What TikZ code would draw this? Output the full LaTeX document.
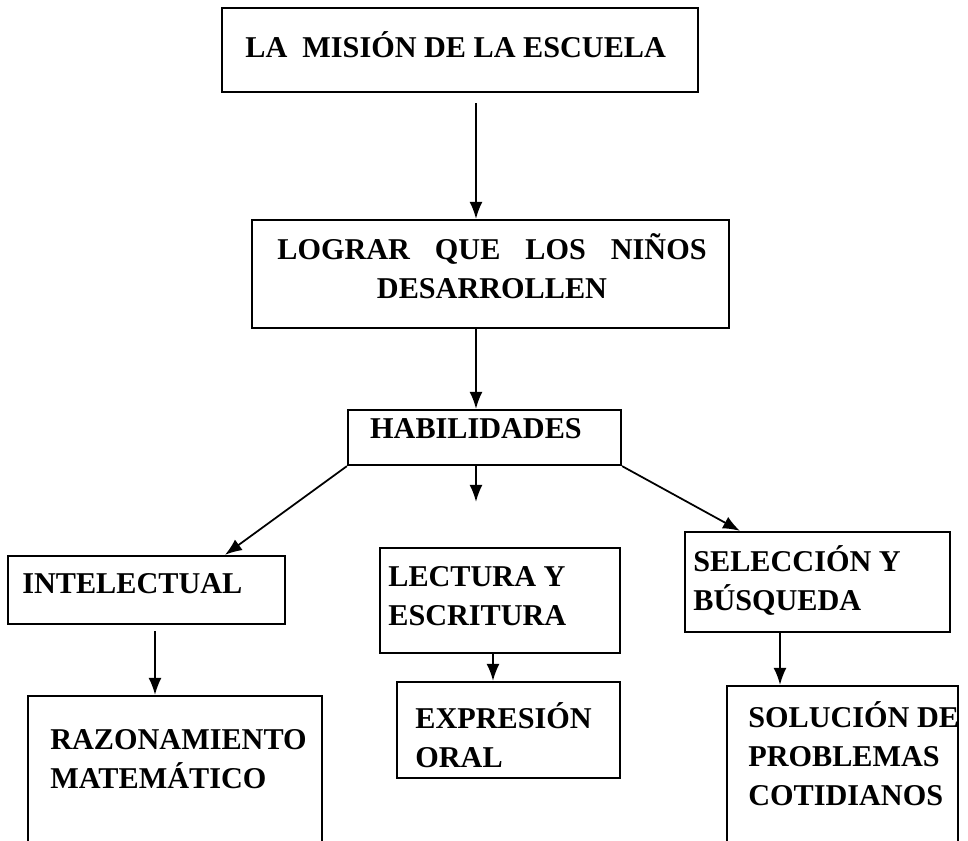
\documentclass[tikz,border=0pt]{standalone}
\usepackage{fontspec}
\setmainfont{Liberation Serif}
\usetikzlibrary{arrows.meta}
\begin{document}
\begin{tikzpicture}[x=0.02cm,y=-0.02cm,
		caja/.style={draw,line width=1.3pt,inner sep=0pt},
		texto/.style={inner sep=0pt,font=\fontsize{17.2}{22.2}\selectfont\bfseries},
		flecha/.style={line width=1pt,-{Latex[length=0.34cm,width=0.26cm]}}]
				\useasboundingbox (0,0) rectangle (968,840);
				\clip (0,0) rectangle (968,840);
				\node[caja,minimum width=9.52cm,minimum height=1.68cm] (mision) at (460,50) {};
				\node[caja,minimum width=9.54cm,minimum height=2.16cm] (lograr) at (490.5,274) {};
				\node[caja,minimum width=5.46cm,minimum height=1.1cm] (habilidades) at (484.5,437.5) {};
				\node[caja,minimum width=5.54cm,minimum height=1.36cm] (intelectual) at (146.5,590) {};
				\node[caja,minimum width=4.8cm,minimum height=2.1cm] (lectura) at (500,600.5) {};
				\node[caja,minimum width=5.3cm,minimum height=2cm] (seleccion) at (817.5,582) {};
				\node[caja,minimum width=5.88cm,minimum height=3.12cm] (razonamiento) at (175,774) {};
				\node[caja,minimum width=4.46cm,minimum height=1.92cm] (expresion) at (508.5,730) {};
				\node[caja,minimum width=4.62cm,minimum height=3.32cm] (solucion) at (842.5,769) {};
				\node[texto,anchor=base west] (tmision) at (245,57) {LA\ \ MISIÓN DE LA ESCUELA};
				\node[texto,anchor=base,align=center] (tlograr) at (492,298) {LOGRAR\hspace{0.5cm}QUE\hspace{0.5cm}LOS\hspace{0.5cm}NIÑOS\\DESARROLLEN};
				\node[texto,anchor=base] (thabilidades) at (476,438) {HABILIDADES};
				\node[texto,anchor=base west] (tintelectual) at (22,593) {INTELECTUAL};
				\node[texto,anchor=base west,align=left] (tlectura) at (388,625) {LECTURA Y\\ESCRITURA};
				\node[texto,anchor=base west,align=left] (tseleccion) at (693,610) {SELECCIÓN Y\\BÚSQUEDA};
				\node[texto,anchor=base west,align=left] (trazonamiento) at (50,788) {RAZONAMIENTO\\MATEMÁTICO};
				\node[texto,anchor=base west,align=left] (texpresion) at (415,767) {EXPRESIÓN\\ORAL};
				\node[texto,anchor=base west,align=left] (tsolucion) at (748,805) {SOLUCIÓN DE\\PROBLEMAS\\COTIDIANOS};
				\coordinate (eje) at (476,0);
				\draw[flecha,shorten <=0.2cm] (mision.south -| eje) -- (lograr.north -| eje);
				\draw[flecha] (lograr.south -| eje) -- (habilidades.north -| eje);
				\draw[flecha,shorten >=0.9cm] (habilidades.south -| eje) -- (lectura.north -| eje);
				\draw[flecha] (habilidades.south west) -- ([xshift=1.57cm]intelectual.north);
				\draw[flecha] (habilidades.south east) -- ([xshift=-1.55cm]seleccion.north);
				\draw[flecha,shorten <=0.12cm] ([xshift=0.17cm]intelectual.south) -- ([xshift=-0.4cm]razonamiento.north);
				\draw[flecha] ([xshift=-0.14cm]lectura.south) -- ([xshift=-0.31cm]expresion.north);
				\draw[flecha] ([xshift=-0.75cm]seleccion.south) -- ([xshift=-1.25cm]solucion.north);
			\end{tikzpicture}
\end{document}
